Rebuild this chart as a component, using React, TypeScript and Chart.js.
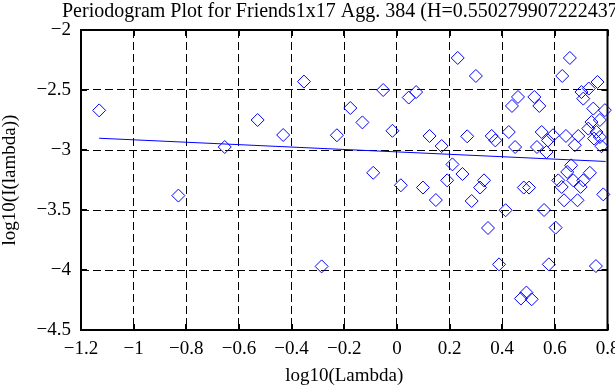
import React, { useEffect, useRef } from "react";
import { Chart, registerables } from "chart.js";

Chart.register(...registerables);

const TITLE = "Periodogram Plot for Friends1x17 Agg. 384 (H=0.5502799072224371)";
const X_LABEL = "log10(Lambda)";
const Y_LABEL = "log10(I(lambda))";

const xTicks = [-1.2, -1, -0.8, -0.6, -0.4, -0.2, 0, 0.2, 0.4, 0.6, 0.8];
const yTicks = [-4.5, -4, -3.5, -3, -2.5, -2];

const logLambda = [
  -1.131, -0.83, -0.654, -0.529, -0.432, -0.353, -0.286, -0.228, -0.177, -0.131,
  -0.09, -0.052, -0.017, 0.015, 0.045, 0.073, 0.099, 0.124, 0.148, 0.17,
  0.191, 0.211, 0.231, 0.249, 0.267, 0.284, 0.3, 0.316, 0.331, 0.346,
  0.36, 0.374, 0.388, 0.413, 0.425, 0.437, 0.449, 0.46, 0.471, 0.482,
  0.492, 0.502, 0.512, 0.522, 0.532, 0.541, 0.55, 0.559, 0.568, 0.574,
  0.577, 0.593, 0.603, 0.613, 0.626, 0.628, 0.635, 0.642, 0.647, 0.657,
  0.662, 0.67, 0.676, 0.686, 0.689, 0.698, 0.701, 0.708, 0.708, 0.727,
  0.729, 0.733, 0.739, 0.746, 0.749, 0.756, 0.758, 0.762, 0.771, 0.771,
  0.777, 0.784, 0.79,
];

const logPeriodogram = [
  -2.67, -3.38, -2.975, -2.75, -2.875, -2.43, -3.97, -2.877, -2.65, -2.77,
  -3.19, -2.5, -2.84, -3.294, -2.563, -2.517, -3.313, -2.883, -3.417, -2.967,
  -3.253, -3.12, -2.233, -3.2, -2.886, -3.425, -2.383, -3.313, -3.253, -3.65,
  -2.883, -2.92, -3.953, -3.502, -2.85, -2.633, -2.975, -2.558, -4.238, -3.313,
  -4.188, -3.313, -4.244, -2.558, -2.975, -2.633, -2.85, -3.5, -3.017, -2.92,
  -3.953, -2.877, -3.647, -3.253, -3.308, -2.383, -3.419, -2.883, -3.183, -2.233,
  -3.128, -3.253, -2.96, -3.419, -2.883, -3.308, -2.517, -3.253, -2.572, -2.822,
  -2.488, -3.19, -2.767, -2.655, -2.905, -3.967, -2.85, -2.433, -2.75, -2.892,
  -2.969, -3.37, -2.668,
];

const fitX = [-1.131, 0.793];
const fitY = [-2.902, -3.0955];

const FONT = '"Liberation Serif", "Times New Roman", serif';
const FS = 19;
const TITLE_FS = 20;

const fmt = (v: number) => {
  const s = String(Number(v.toFixed(2)));
  return s.replace("-", "\u2212");
};

const framePlugin = {
  id: "frame",
  beforeDatasetsDraw(chart: any) {
    const { ctx, chartArea: a, scales } = chart;
    ctx.save();
    ctx.setLineDash([]);
    ctx.strokeStyle = "#000";
    ctx.lineWidth = 2;
    ctx.strokeRect(a.left, a.top, a.right - a.left, a.bottom - a.top);
    const L = 6;
    ctx.beginPath();
    for (const v of xTicks) {
      const px = Math.round(scales.x.getPixelForValue(v));
      ctx.moveTo(px, a.bottom);
      ctx.lineTo(px, a.bottom - L);
      ctx.moveTo(px, a.top);
      ctx.lineTo(px, a.top + L);
    }
    for (const v of yTicks) {
      const py = Math.round(scales.y.getPixelForValue(v));
      ctx.moveTo(a.left, py);
      ctx.lineTo(a.left + L, py);
      ctx.moveTo(a.right, py);
      ctx.lineTo(a.right - L, py);
    }
    ctx.stroke();
    ctx.restore();
  },
  afterDraw(chart: any) {
    const { ctx } = chart;
    ctx.save();
    ctx.fillStyle = "#000";
    ctx.font = `${TITLE_FS}px ${FONT}`;
    ctx.textAlign = "left";
    ctx.textBaseline = "alphabetic";
    ctx.fillText(TITLE, 62, 17);
    ctx.restore();
  },
};

export default function App() {
  const ref = useRef<HTMLCanvasElement>(null);

  useEffect(() => {
    const points = logLambda.map((x, i) => ({ x, y: logPeriodogram[i] }));
    const fit = fitX.map((x, i) => ({ x, y: fitY[i] }));
    const chart = new Chart(ref.current as HTMLCanvasElement, {
      type: "scatter",
      data: {
        datasets: [
          {
            label: "periodogram",
            data: points,
            pointStyle: "rectRot",
            pointRadius: 6.5,
            pointBorderWidth: 1,
            borderColor: "#0000ff",
            backgroundColor: "rgba(0,0,0,0)",
            clip: false as any,
          },
          {
            label: "fit",
            type: "line",
            data: fit,
            borderColor: "#0000ff",
            borderWidth: 1,
            pointRadius: 0,
            fill: false,
          } as any,
        ],
      },
      options: {
        animation: false,
        responsive: false,
        devicePixelRatio: 1,
        layout: { padding: { left: 0, right: 7, top: 30, bottom: 0 } },
        plugins: {
          legend: { display: false },
          tooltip: { enabled: false },
          title: { display: false },
        },
        scales: {
          x: {
            type: "linear",
            min: -1.2,
            max: 0.8,
            afterBuildTicks: (s: any) => {
              s.ticks = xTicks.map((v) => ({ value: v }));
            },
            afterFit: (s: any) => {
              s.height = 55;
              s.paddingLeft = 0;
              s.paddingRight = 0;
            },
            grid: { color: "#000", lineWidth: 1, drawTicks: false },
            border: { display: false, dash: [8, 4] },
            ticks: {
              padding: 8,
              maxRotation: 0,
              autoSkip: false,
              color: "#000",
              font: { family: FONT, size: FS },
              callback: (v: any) => fmt(Number(v)),
            },
            title: {
              display: true,
              text: X_LABEL,
              color: "#000",
              font: { family: FONT, size: FS },
              padding: { top: 0, bottom: -2 },
            },
          },
          y: {
            type: "linear",
            min: -4.5,
            max: -2,
            afterBuildTicks: (s: any) => {
              s.ticks = yTicks.map((v) => ({ value: v }));
            },
            afterFit: (s: any) => {
              s.width = 81;
              s.paddingTop = 0;
              s.paddingBottom = 0;
            },
            grid: { color: "#000", lineWidth: 1, drawTicks: false },
            border: { display: false, dash: [8, 4] },
            ticks: {
              padding: 10,
              autoSkip: false,
              color: "#000",
              font: { family: FONT, size: FS },
              callback: (v: any) => fmt(Number(v)),
            },
            title: {
              display: true,
              text: Y_LABEL,
              color: "#000",
              font: { family: FONT, size: FS },
              padding: { top: -1, bottom: 0 },
            },
          },
        },
      },
      plugins: [framePlugin],
    });
    return () => chart.destroy();
  }, []);

  return (
    <div
      style={{
        position: "fixed",
        left: 0,
        top: 0,
        width: 615,
        height: 385,
        background: "#fff",
        overflow: "hidden",
      }}
    >
      <canvas
        ref={ref}
        width={615}
        height={385}
        style={{ display: "block", width: 615, height: 385 }}
      />
    </div>
  );
}
